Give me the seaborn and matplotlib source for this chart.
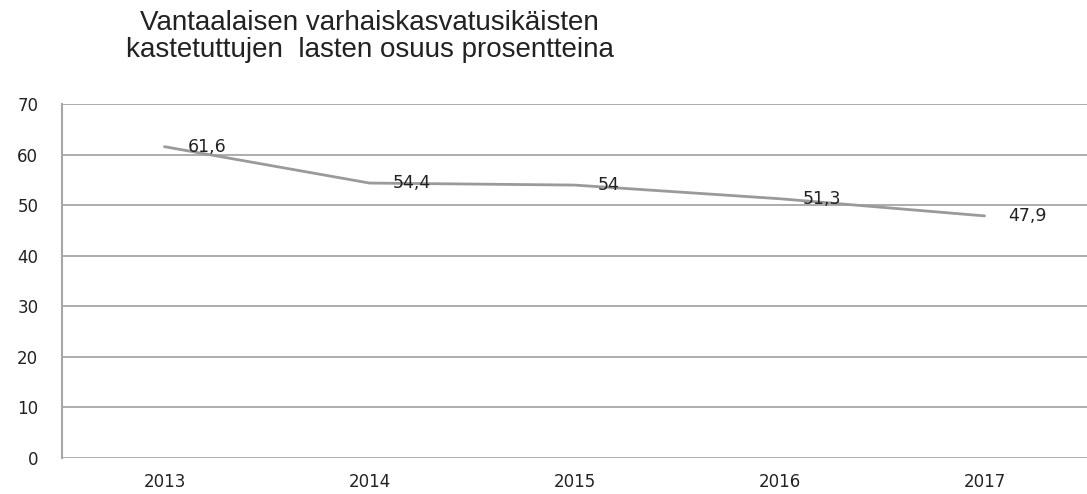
import pandas as pd
import matplotlib.pyplot as plt
import seaborn as sns

# data
years = ["2013", "2014", "2015", "2016", "2017"]
osuus = [61.6, 54.4, 54.0, 51.3, 47.9]
labels = ["61,6", "54,4", "54", "51,3", "47,9"]

df = pd.DataFrame({"vuosi": years, "osuus": osuus})

sns.set_style("white")
plt.rcParams['font.family'] = ['DejaVu Sans']

fig = plt.figure(figsize=(10.87, 4.94), dpi=100)
ax = fig.add_axes([0.057, 0.073, 0.943, 0.716])

sns.lineplot(data=df, x="vuosi", y="osuus", ax=ax, color="#9a9a9a", linewidth=2)

ax.set_xlim(-0.5, 4.5)
ax.set_ylim(0, 70)
ax.set_yticks(range(0, 71, 10))
ax.grid(axis="y", color="#a6a6a6", linewidth=1.3)
ax.set_axisbelow(True)

for s in ["top", "right", "bottom"]:
    ax.spines[s].set_visible(False)
ax.spines["left"].set_color("#a6a6a6")
ax.spines["left"].set_linewidth(1.5)

ax.tick_params(axis="both", length=0, labelsize=12, colors="#222222")
ax.tick_params(axis="y", pad=17)
ax.tick_params(axis="x", pad=11)
ax.set_xlabel("")
ax.set_ylabel("")

# data labels to the right of points
for i, (v, t) in enumerate(zip(osuus, labels)):
    ax.annotate(t, (i, v), xytext=(17, 0), textcoords="offset points",
                ha="left", va="center", fontsize=12.5, color="#222222")

fig.text(0.34, 0.927, "Vantaalaisen varhaiskasvatusikäisten\nkastetuttujen  lasten osuus prosentteina",
         ha="center", va="center", fontsize=20, family=["Liberation Sans"],
         color="#222222", linespacing=1.05)

fig.savefig("out.png", dpi=100)
